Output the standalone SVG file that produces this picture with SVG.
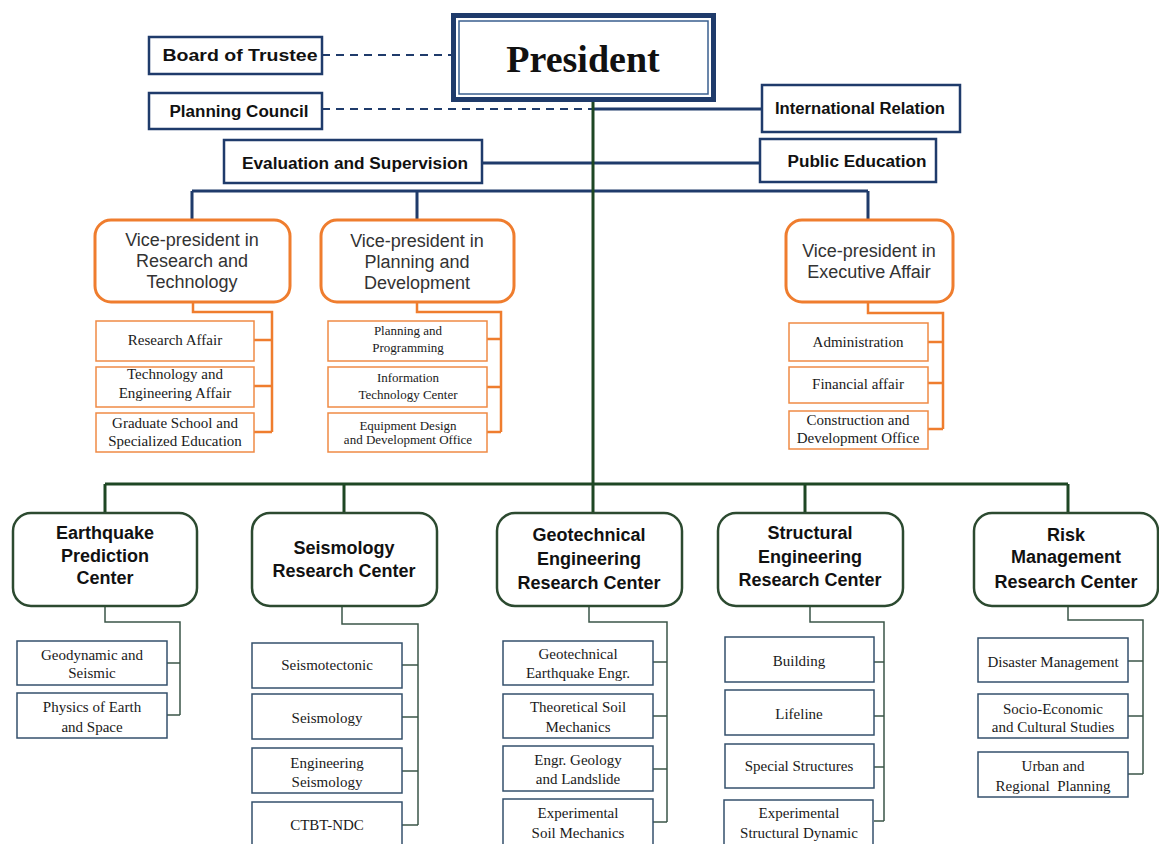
<svg xmlns="http://www.w3.org/2000/svg" width="1159" height="844" viewBox="0 0 1159 844">
  <style>
    .navy { fill: #fff; stroke: #1f3b6b; stroke-width: 2.5; }
    .vp { fill: #fff; stroke: #ef7d2e; stroke-width: 3; }
    .osub { fill: #fff; stroke: #ef8a45; stroke-width: 1.5; }
    .ctr { fill: #fff; stroke: #2c4a30; stroke-width: 2.5; }
    .gsub { fill: #fff; stroke: #34506c; stroke-width: 1.5; }
    .lbl { font-family: "Liberation Sans", Arial, sans-serif; font-weight: bold; font-size: 16px; fill: #111; text-anchor: middle; }
    .vpt { font-family: "Liberation Sans", Arial, sans-serif; font-size: 18px; fill: #333; text-anchor: middle; }
    .ct { font-family: "Liberation Sans", Arial, sans-serif; font-weight: bold; font-size: 18px; fill: #111; text-anchor: middle; }
    .st { font-family: "Liberation Serif", "Times New Roman", serif; font-size: 15px; fill: #1a1a1a; text-anchor: middle; }
    .st2 { font-family: "Liberation Serif", "Times New Roman", serif; font-size: 13px; fill: #1a1a1a; text-anchor: middle; }
    .ln-navy { fill: none; stroke: #1f3b6b; stroke-width: 3; }
    .ln-dash { fill: none; stroke: #1f3b6b; stroke-width: 2; stroke-dasharray: 8 6; }
    .ln-green { fill: none; stroke: #1e4724; stroke-width: 3; }
    .ln-orange { fill: none; stroke: #ef7d2e; stroke-width: 2.5; }
    .ln-sub { fill: none; stroke: #3b5648; stroke-width: 1.5; }
  </style>
  <rect width="1159" height="844" fill="#fff"/>

  <!-- connectors -->
  <g id="connectors">
    <!-- advisory links -->
    <path class="ln-dash" d="M322 55 H451"/>
    <path class="ln-dash" d="M322 109 H593"/>
    <!-- staff offices -->
    <path class="ln-navy" d="M593 109 H762"/>
    <path class="ln-navy" d="M482 163 H760"/>
    <!-- vice-president bus -->
    <path class="ln-navy" d="M192 191 H868 M192 191 V219 M417 191 V219 M868 191 V219"/>
    <!-- main trunk and centre bus -->
    <path class="ln-green" d="M593 102 V484"/>
    <path class="ln-green" d="M105 484 H1068 M105 484 V513 M344 484 V513 M593 484 V513 M805 484 V513 M1068 484 V513"/>
    <!-- vice-president departments -->
    <path class="ln-orange" d="M193 302 V312 H272 V432 M254 340 H272 M254 386 H272 M254 432 H272"/>
    <path class="ln-orange" d="M417 302 V312 H501 V432 M487 339 H501 M487 387 H501 M487 432 H501"/>
    <path class="ln-orange" d="M868 302 V313 H943 V429 M928 342 H943 M928 383 H943 M928 429 H943"/>
    <!-- research departments -->
    <path class="ln-sub" d="M105 606 V622 H180 V715 M167 663 H180 M167 715 H180"/>
    <path class="ln-sub" d="M342 606 V624 H418 V825 M402 665 H418 M402 717 H418 M402 771 H418 M402 825 H418"/>
    <path class="ln-sub" d="M589 606 V622 H667 V822 M653 662 H667 M653 716 H667 M653 769 H667 M653 822 H667"/>
    <path class="ln-sub" d="M810 606 V622 H884 V821 M874 662 H884 M874 716 H884 M874 767 H884 M874 821 H884"/>
    <path class="ln-sub" d="M1068 606 V620 H1143 V774 M1128 661 H1143 M1128 716 H1143 M1128 774 H1143"/>
  </g>

  <!-- top level -->
  <g id="president">
    <rect x="453.5" y="15.5" width="260" height="84" fill="#fff" stroke="#1f3b6b" stroke-width="5"/>
    <rect x="459" y="21" width="249" height="73" fill="none" stroke="#3a5f8f" stroke-width="1.5"/>
    <text x="583" y="72" font-family="Liberation Serif, Times New Roman, serif" font-weight="bold" font-size="38" fill="#111" text-anchor="middle">President</text>
  </g>
  <g id="board-of-trustee">
    <rect class="navy" x="149" y="37" width="173" height="37"/>
    <text class="lbl" x="240" y="61" textLength="155" lengthAdjust="spacingAndGlyphs">Board of Trustee</text>
  </g>
  <g id="planning-council">
    <rect class="navy" x="149" y="93" width="173" height="36"/>
    <text class="lbl" x="239" y="117" textLength="139" lengthAdjust="spacingAndGlyphs">Planning Council</text>
  </g>
  <g id="evaluation">
    <rect class="navy" x="224" y="140" width="258" height="43"/>
    <text class="lbl" x="355" y="169" textLength="226" lengthAdjust="spacingAndGlyphs">Evaluation and Supervision</text>
  </g>
  <g id="international-relation">
    <rect class="navy" x="762" y="85" width="198" height="47"/>
    <text class="lbl" x="860" y="114" font-size="14" textLength="170" lengthAdjust="spacingAndGlyphs">International Relation</text>
  </g>
  <g id="public-education">
    <rect class="navy" x="760" y="139" width="176" height="43"/>
    <text class="lbl" x="857" y="167" textLength="139" lengthAdjust="spacingAndGlyphs">Public Education</text>
  </g>

  <!-- vice-presidents -->
  <g id="vp-research">
    <rect class="vp" x="95" y="220" width="195" height="82" rx="16"/>
    <text class="vpt" x="192" y="246">Vice-president in</text>
    <text class="vpt" x="192" y="267">Research and</text>
    <text class="vpt" x="192" y="288">Technology</text>
  </g>
  <g id="vp-planning">
    <rect class="vp" x="321" y="220" width="193" height="82" rx="16"/>
    <text class="vpt" x="417" y="247">Vice-president in</text>
    <text class="vpt" x="417" y="268">Planning and</text>
    <text class="vpt" x="417" y="289">Development</text>
  </g>
  <g id="vp-executive">
    <rect class="vp" x="786" y="220" width="167" height="82" rx="16"/>
    <text class="vpt" x="869" y="257">Vice-president in</text>
    <text class="vpt" x="869" y="278">Executive Affair</text>
  </g>

  <!-- vice-president departments -->
  <g id="research-affair">
    <rect class="osub" x="96" y="321" width="158" height="40"/>
    <text class="st" x="175" y="345">Research Affair</text>
  </g>
  <g id="technology-engineering">
    <rect class="osub" x="96" y="367" width="158" height="40"/>
    <text class="st" x="175" y="379">Technology and</text>
    <text class="st" x="175" y="398">Engineering Affair</text>
  </g>
  <g id="graduate-school">
    <rect class="osub" x="96" y="413" width="158" height="39"/>
    <text class="st" x="175" y="428">Graduate School and</text>
    <text class="st" x="175" y="446">Specialized Education</text>
  </g>
  <g id="planning-programming">
    <rect class="osub" x="328" y="321" width="159" height="40"/>
    <text class="st2" x="408" y="335">Planning and</text>
    <text class="st2" x="408" y="352">Programming</text>
  </g>
  <g id="it-center">
    <rect class="osub" x="328" y="367" width="159" height="40"/>
    <text class="st2" x="408" y="382">Information</text>
    <text class="st2" x="408" y="399">Technology Center</text>
  </g>
  <g id="equipment-design">
    <rect class="osub" x="328" y="413" width="159" height="39"/>
    <text class="st2" x="408" y="430" font-size="12.5">Equipment Design</text>
    <text class="st2" x="408" y="444" font-size="12.5">and Development Office</text>
  </g>
  <g id="administration">
    <rect class="osub" x="789" y="323" width="139" height="38"/>
    <text class="st" x="858" y="347">Administration</text>
  </g>
  <g id="financial-affair">
    <rect class="osub" x="789" y="367" width="139" height="36"/>
    <text class="st" x="858" y="389">Financial affair</text>
  </g>
  <g id="construction-development">
    <rect class="osub" x="789" y="411" width="139" height="38"/>
    <text class="st" x="858" y="425">Construction and</text>
    <text class="st" x="858" y="443">Development Office</text>
  </g>

  <!-- research centres -->
  <g id="earthquake-prediction">
    <rect class="ctr" x="13" y="513" width="184" height="93" rx="18"/>
    <text class="ct" x="105" y="539">Earthquake</text>
    <text class="ct" x="105" y="562">Prediction</text>
    <text class="ct" x="105" y="584">Center</text>
  </g>
  <g id="seismology-center">
    <rect class="ctr" x="252" y="513" width="185" height="93" rx="18"/>
    <text class="ct" x="344" y="554">Seismology</text>
    <text class="ct" x="344" y="577">Research Center</text>
  </g>
  <g id="geotechnical-center">
    <rect class="ctr" x="497" y="513" width="185" height="93" rx="18"/>
    <text class="ct" x="589" y="541">Geotechnical</text>
    <text class="ct" x="589" y="565">Engineering</text>
    <text class="ct" x="589" y="589">Research Center</text>
  </g>
  <g id="structural-center">
    <rect class="ctr" x="718" y="513" width="185" height="93" rx="18"/>
    <text class="ct" x="810" y="539">Structural</text>
    <text class="ct" x="810" y="563">Engineering</text>
    <text class="ct" x="810" y="586">Research Center</text>
  </g>
  <g id="risk-center">
    <rect class="ctr" x="974" y="513" width="184" height="93" rx="18"/>
    <text class="ct" x="1066" y="541">Risk</text>
    <text class="ct" x="1066" y="563">Management</text>
    <text class="ct" x="1066" y="588">Research Center</text>
  </g>

  <!-- research departments -->
  <g id="geodynamic">
    <rect class="gsub" x="17" y="641" width="150" height="44"/>
    <text class="st" x="92" y="660">Geodynamic and</text>
    <text class="st" x="92" y="678">Seismic</text>
  </g>
  <g id="physics-earth-space">
    <rect class="gsub" x="17" y="693" width="150" height="45"/>
    <text class="st" x="92" y="712">Physics of Earth</text>
    <text class="st" x="92" y="732">and Space</text>
  </g>
  <g id="seismotectonic">
    <rect class="gsub" x="252" y="643" width="150" height="45"/>
    <text class="st" x="327" y="670">Seismotectonic</text>
  </g>
  <g id="seismology">
    <rect class="gsub" x="252" y="694" width="150" height="45"/>
    <text class="st" x="327" y="723">Seismology</text>
  </g>
  <g id="engineering-seismology">
    <rect class="gsub" x="252" y="748" width="150" height="45"/>
    <text class="st" x="327" y="768">Engineering</text>
    <text class="st" x="327" y="787">Seismology</text>
  </g>
  <g id="ctbt-ndc">
    <rect class="gsub" x="252" y="802" width="150" height="46"/>
    <text class="st" x="327" y="830">CTBT-NDC</text>
  </g>
  <g id="geotechnical-earthquake">
    <rect class="gsub" x="503" y="641" width="150" height="44"/>
    <text class="st" x="578" y="659">Geotechnical</text>
    <text class="st" x="578" y="678">Earthquake Engr.</text>
  </g>
  <g id="theoretical-soil">
    <rect class="gsub" x="503" y="694" width="150" height="44"/>
    <text class="st" x="578" y="712">Theoretical Soil</text>
    <text class="st" x="578" y="732">Mechanics</text>
  </g>
  <g id="engineering-geology">
    <rect class="gsub" x="503" y="746" width="150" height="45"/>
    <text class="st" x="578" y="765">Engr. Geology</text>
    <text class="st" x="578" y="784">and Landslide</text>
  </g>
  <g id="experimental-soil">
    <rect class="gsub" x="503" y="799" width="150" height="48"/>
    <text class="st" x="578" y="818">Experimental</text>
    <text class="st" x="578" y="838">Soil Mechanics</text>
  </g>
  <g id="building">
    <rect class="gsub" x="725" y="637" width="149" height="45"/>
    <text class="st" x="799" y="666">Building</text>
  </g>
  <g id="lifeline">
    <rect class="gsub" x="725" y="690" width="149" height="45"/>
    <text class="st" x="799" y="719">Lifeline</text>
  </g>
  <g id="special-structures">
    <rect class="gsub" x="725" y="744" width="149" height="44"/>
    <text class="st" x="799" y="771">Special Structures</text>
  </g>
  <g id="experimental-structural">
    <rect class="gsub" x="724" y="800" width="149" height="48"/>
    <text class="st" x="799" y="818">Experimental</text>
    <text class="st" x="799" y="838">Structural Dynamic</text>
  </g>
  <g id="disaster-management">
    <rect class="gsub" x="978" y="638" width="150" height="44"/>
    <text class="st" x="1053" y="667">Disaster Management</text>
  </g>
  <g id="socio-economic">
    <rect class="gsub" x="978" y="694" width="150" height="44"/>
    <text class="st" x="1053" y="714">Socio-Economic</text>
    <text class="st" x="1053" y="732">and Cultural Studies</text>
  </g>
  <g id="urban-regional">
    <rect class="gsub" x="978" y="752" width="150" height="45"/>
    <text class="st" x="1053" y="771">Urban and</text>
    <text class="st" x="1053" y="791" xml:space="preserve">Regional  Planning</text>
  </g>
</svg>
